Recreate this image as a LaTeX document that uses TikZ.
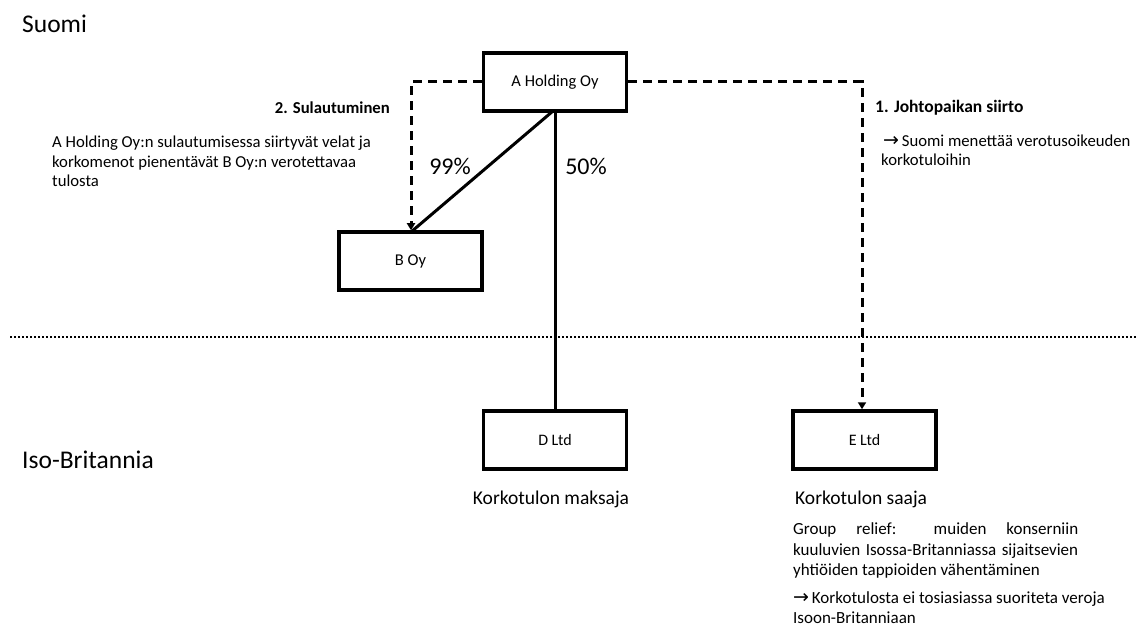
\documentclass[tikz,border=0pt]{standalone}
\usepackage{fontspec}
\setmainfont{Carlito}
\newfontfamily\symf{DejaVu Sans}
\usetikzlibrary{arrows.meta}
\begin{document}
\begin{tikzpicture}[x=1pt,y=-1pt,
  company/.style={draw=black,line width=3.5pt,fill=white,minimum width=143pt,minimum height=58pt,inner sep=0pt,font=\fontsize{16.5}{18}\selectfont},
  own/.style={line width=3pt},
  move/.style={line width=3pt,dash pattern=on 9pt off 6pt,-{Triangle[width=8pt,length=7pt]}},
  region/.style={anchor=base west,inner sep=0pt,font=\fontsize{25.5}{28}\selectfont},
  pct/.style={anchor=base,inner sep=0pt,font=\fontsize{24}{28}\selectfont},
  txt/.style={anchor=base west,inner sep=0pt,font=\fontsize{16.7}{20}\selectfont},
  rtxt/.style={anchor=base west,inner sep=0pt,font=\fontsize{16.7}{20}\selectfont},
  gtxt/.style={anchor=base west,inner sep=0pt,font=\fontsize{17}{20}\selectfont},
  head/.style={inner sep=0pt,font=\fontsize{16.7}{20}\selectfont\bfseries},
  role/.style={inner sep=0pt,font=\fontsize{19.5}{22}\selectfont}]
\useasboundingbox (0,0) rectangle (1138,628);
% regions
\node[region] (suomi) at (22,33) {Suomi};
\node[region] (uk) at (22,468) {Iso-Britannia};
\coordinate (bl) at (10,337);
\coordinate (br) at (1138,337);
\draw[line width=2.2pt,dash pattern=on 2pt off 2pt] (bl) -- (br);
% companies
\node[company] (A) at (555,82) {A Holding Oy};
\node[company] (B) at (410.5,261) {B Oy};
\node[company,font=\fontsize{16}{18}\selectfont] (D) at (555,440) {D Ltd};
\node[company,font=\fontsize{16}{18}\selectfont] (E) at (864.5,440) {E Ltd};
% ownership
\draw[own] (553,111) -- (411,232);
\draw[own] (555,111) -- (D.north);
\node[pct] (p99) at (450,175) {99\%};
\node[pct] (p50) at (586,175) {50\%};
% moves
\coordinate (kB) at (411,82);
\coordinate (kE) at (862,82);
\draw[move] (A.west) -- (kB) -- (B.north -| kB);
\draw[move] (A.east) -- (kE) -- (E.north -| kE);
% texts left
\node[head,anchor=base east] (t2) at (390,114) {2. Sulautuminen};
\node[txt] (l1) at (52,148) {A Holding Oy:n sulautumisessa siirtyvät velat ja};
\node[txt] (l2) at (52,168) {korkomenot pienentävät B Oy:n verotettavaa};
\node[txt] (l3) at (52,187) {tulosta};
% texts right
\node[head,anchor=base west,font=\fontsize{17.5}{20}\selectfont\bfseries] (t1) at (875,113) {1. Johtopaikan siirto};
\node[rtxt] (r1) at (883,147) {{\symf\fontsize{19}{16}\selectfont →}\,Suomi menettää verotusoikeuden};
\node[rtxt] (r2) at (881,166) {korkotuloihin};
% roles
\node[role,anchor=base] (maksaja) at (551,504) {Korkotulon maksaja};
\node[role,anchor=base west] (saaja) at (795,504) {Korkotulon saaja};
% group relief
\node[gtxt] (g1) at (793,534) {\makebox[285pt][s]{Group relief: muiden konserniin}};
\node[gtxt] (g2) at (793,555) {\makebox[285pt][s]{kuuluvien Isossa-Britanniassa sijaitsevien}};
\node[gtxt] (g3) at (793,575) {yhtiöiden tappioiden vähentäminen};
\node[gtxt] (g4) at (793,603) {{\symf\fontsize{19}{15}\selectfont →}\,Korkotulosta ei tosiasiassa suoriteta veroja};
\node[gtxt] (g5) at (793,623) {Isoon-Britanniaan};
\end{tikzpicture}
\end{document}
